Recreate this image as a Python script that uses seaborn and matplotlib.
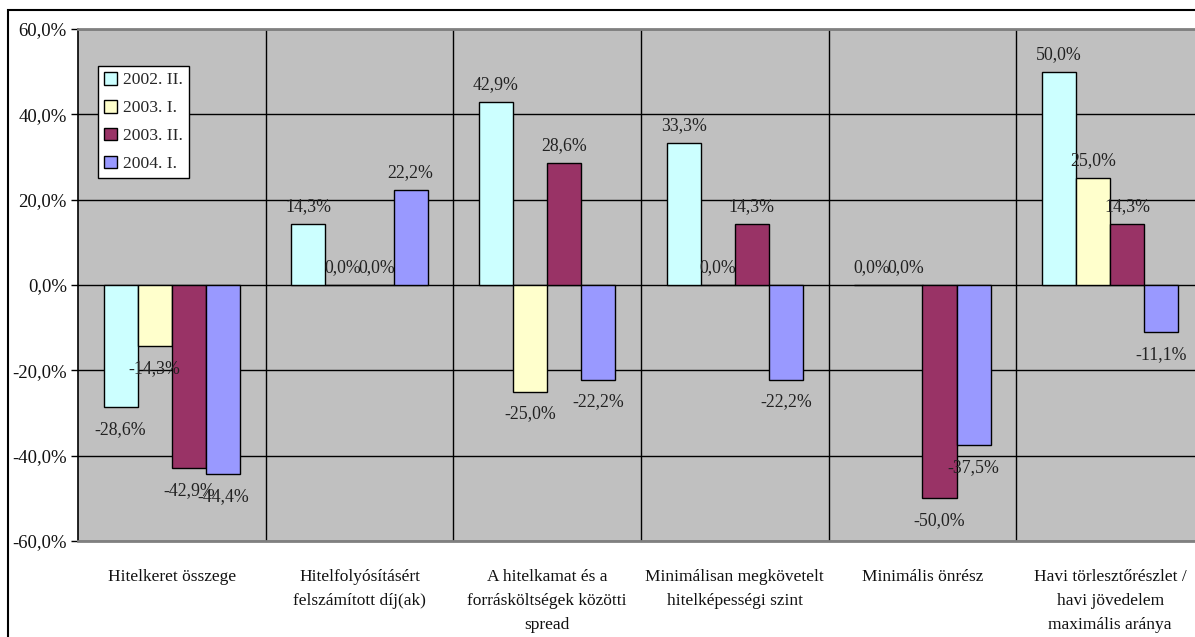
import numpy as np
import pandas as pd
import matplotlib
matplotlib.use("Agg")
import matplotlib.pyplot as plt
from matplotlib.patches import Rectangle
from matplotlib.ticker import FuncFormatter, FixedLocator
import seaborn as sns

# ---- data -------------------------------------------------------------
categories = [
    "Hitelkeret összege",
    "Hitelfolyósításért\nfelszámított díj(ak)",
    "A hitelkamat és a\nforrásköltségek közötti\nspread",
    "Minimálisan megkövetelt\nhitelképességi szint",
    "Minimális önrész",
    "Havi törlesztőrészlet /\nhavi jövedelem\nmaximális aránya",
]
periods = ["2002. II.", "2003. I.", "2003. II.", "2004. I."]

vals_2002_II = [-28.6, 14.3, 42.9, 33.3, 0.0, 50.0]
vals_2003_I = [-14.3, 0.0, -25.0, 0.0, 0.0, 25.0]
vals_2003_II = [-42.9, 0.0, 28.6, 14.3, -50.0, 14.3]
vals_2004_I = [-44.4, 22.2, -22.2, -22.2, -37.5, -11.1]

series = [vals_2002_II, vals_2003_I, vals_2003_II, vals_2004_I]
palette = ["#CCFFFF", "#FFFFCC", "#993366", "#9999FF"]

y_ticks = [-60, -40, -20, 0, 20, 40, 60]

df = pd.DataFrame(
    [(c, p, v) for p, vals in zip(periods, series) for c, v in zip(categories, vals)],
    columns=["category", "period", "value"],
)


def pct(v):
    return f"{v:.1f}".replace(".", ",") + "%"


# ---- style ------------------------------------------------------------
sns.set_theme(style="white")
plt.rcParams["font.family"] = ["Liberation Serif", "DejaVu Serif"]
plt.rcParams["font.size"] = 12.5

W, H = 1195, 637
fig = plt.figure(figsize=(W / 100, H / 100), dpi=100)
fig.patch.set_facecolor("white")

# plot area (the last category runs slightly past the right edge)
left_px, right_px, top_px, bottom_px = 78, 1204, 29, 541
ax = fig.add_axes([
    left_px / W,
    (H - bottom_px) / H,
    (right_px - left_px) / W,
    (bottom_px - top_px) / H,
])
ax.set_facecolor("#C0C0C0")

sns.barplot(
    data=df, x="category", y="value", hue="period",
    order=categories, hue_order=periods, palette=palette,
    width=0.727, saturation=1, edgecolor="black", linewidth=1.0,
    ax=ax, legend=True, zorder=3,
)

ax.set_xlim(-0.5, len(categories) - 0.5)
ax.set_ylim(-60, 60)
ax.set_xlabel("")
ax.set_ylabel("")

# value axis
ax.yaxis.set_major_locator(FixedLocator(y_ticks))
ax.yaxis.set_major_formatter(FuncFormatter(lambda v, _: pct(v)))
ax.tick_params(axis="y", which="major", direction="out", length=5, width=1,
               color="black", labelsize=13.5, pad=3, left=True,
               labelcolor="#111111")
ax.tick_params(axis="x", which="both", length=0, labelsize=12.5, pad=20.5,
               labelcolor="#111111")

# gridlines: horizontal at value ticks, vertical between categories
ax.set_xticks(np.arange(len(categories)) + 0.5, minor=True)
ax.grid(axis="y", which="major", color="black", linewidth=1.0, zorder=1)
ax.grid(axis="x", which="minor", color="black", linewidth=1.0, zorder=1)
ax.grid(axis="x", which="major", visible=False)
ax.set_axisbelow(True)

for lbl in ax.get_xticklabels():
    lbl.set_linespacing(1.63)
    lbl.set_ha("center")

for side in ["top", "bottom"]:
    ax.spines[side].set_color("#808080")
    ax.spines[side].set_linewidth(2.0)
ax.spines["left"].set_color("black")
ax.spines["left"].set_linewidth(1.2)
ax.spines["right"].set_visible(False)

# data labels
for container, vals in zip(ax.containers, series):
    for bar, v in zip(container, vals):
        xc = bar.get_x() + bar.get_width() / 2
        off = 12.5 if v >= 0 else -16
        ax.annotate(
            pct(v),
            xy=(xc, v), xytext=(0, off), textcoords="offset points",
            ha="center", va="center", fontsize=12.8, color="#222222",
            zorder=5, annotation_clip=False,
        )

# legend
handles, labels = ax.get_legend_handles_labels()
leg = ax.legend(
    handles, labels, loc="upper left",
    bbox_to_anchor=(20 / (right_px - left_px), 1 - (66 - top_px) / (bottom_px - top_px)),
    borderaxespad=0, frameon=True, fancybox=False, shadow=False,
    fontsize=12.6, handlelength=0.72, handleheight=0.72, handletextpad=0.35,
    labelspacing=0.66, borderpad=0.35,
)
leg.get_frame().set_edgecolor("black")
leg.get_frame().set_facecolor("white")
leg.get_frame().set_linewidth(1.0)
leg.get_frame().set_alpha(1)
for h in leg.legend_handles:
    h.set_edgecolor("black")
    h.set_linewidth(1.0)

# chart frame
fig.patches.append(Rectangle(
    (8 / W, -0.1), 1.2, 1 - 10 / H + 0.1,
    transform=fig.transFigure, fill=False, edgecolor="black", linewidth=1.5,
))

fig.savefig("out.png", dpi=100)
